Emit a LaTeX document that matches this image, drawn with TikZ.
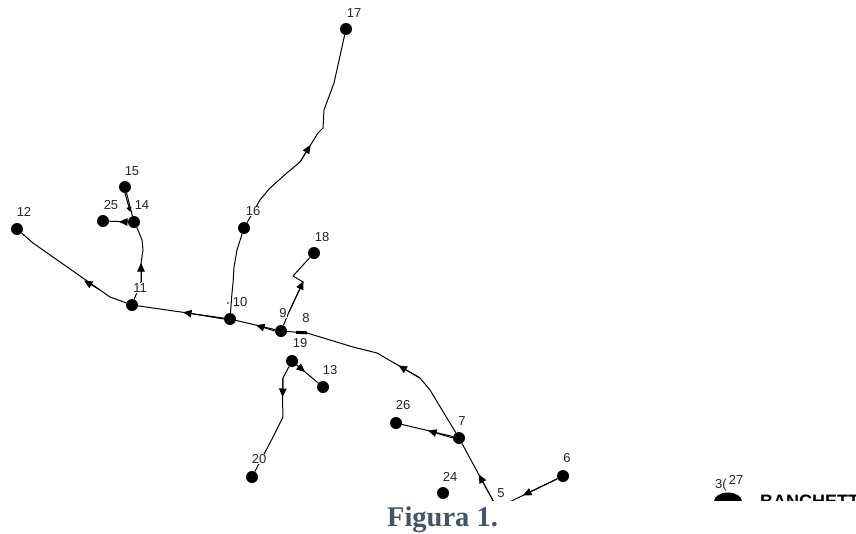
\documentclass[tikz,border=0pt]{standalone}
\usepackage{fontspec}
\setmainfont{Liberation Sans}
\newfontfamily\capfont{Liberation Serif}
\usetikzlibrary{arrows.meta,calc,shapes.geometric}
\definecolor{capblue}{HTML}{44546A}
\begin{document}
\begin{tikzpicture}[x=1pt,y=-1pt,
  dot/.style={circle,fill=black,inner sep=0pt,minimum size=12pt},
  lbl/.style={fill=white,inner sep=0.5pt,text=black!85,font=\fontsize{13}{14}\selectfont},
  conn/.style={draw=black,line width=1pt},
  tipst/.style={draw=black,line width=1pt,-{Triangle[length=8.5pt,width=7.5pt]}},
  smalltip/.style={draw=black,line width=1pt,-{Triangle[length=5pt,width=5pt]}}
]
\fill[white] (0,0) rectangle (856,533);
\useasboundingbox (0,0) rectangle (856,533);

\begin{scope}
\clip (0,0) rectangle (856,500);
% nodes
\node[dot] (n17) at (346,29) {};
\node[dot] (n16) at (244,228) {};
\node[dot] (n15) at (125,187) {};
\node[dot] (n14) at (134,222) {};
\node[dot] (n25) at (103,221) {};
\node[dot] (n12) at (17,229) {};
\node[dot] (n18) at (314,253) {};
\node[dot] (n11) at (132,305) {};
\node[dot] (n10) at (230,319) {};
\node[dot] (n9) at (281,331) {};
\coordinate (n8) at (307,333);
\node[dot] (n19) at (292,361) {};
\node[dot] (n13) at (323,387) {};
\node[dot] (n26) at (396,423) {};
\node[dot] (n7) at (459,438) {};
\node[dot] (n20) at (252,477) {};
\node[dot] (n24) at (443,493) {};
\node[dot] (n6) at (563,476) {};
\node[dot] (n5) at (497,508) {};
\node[ellipse,fill=black,minimum width=28pt,minimum height=18pt,inner sep=0pt] (n27) at (728,501.5) {};

% connectors
\draw[conn] (n16) -- (260,200) -- (270,188) -- (288,172) -- (300,162) -- (318,133) -- (323,128) -- (324,110) -- (334,83) -- (n17);
\draw[tipst] (300,162) -- (310.5,145);

\draw[conn] (n10) -- (232,293) -- (233,283) -- (234,267) -- (237,250) -- (n16);

\draw[conn] (n11) -- (141,282) -- (141,263) -- (143,250) -- (142,240) -- (138,230) -- (n14);
\draw[tipst] (141,282) -- (141,263);

\draw[conn] (n14) -- (n25);
\draw[tipst] (n14.west) -- (119,221.8);

\draw[conn] (n15) -- (n14);
\draw[smalltip] (n15.south) -- (130.3,212);

\draw[conn] (n11) -- (110,297) -- (100,290) -- (33,243) -- (n12);
\draw[tipst] (100,290) -- (84,280.5);

\draw[conn] (n10) -- (n11);
\draw[tipst] (n10.west) -- (183,312.3);

\draw[conn] (n9) -- (n10);
\draw[tipst] (n9.west) -- (256,325.1);

\draw[conn] (n8) -- (n9);
\draw[line width=3pt] (296,332.3) -- (307,332.8);

\draw[conn] (n7) -- (430,390) -- (420,378) -- (377,353) -- (353,347) -- (n8);
\draw[tipst] (420,378) -- (398.5,365.5);

\draw[conn] (n5) -- (n7);
\draw[tipst] (n5) -- (478.8,474.5);

\draw[conn] (n7) -- (n26);
\draw[tipst] (n7.west) -- (428,430.6);

\draw[conn] (n9) -- (289,312) -- (303,282) -- (293,276) -- (n18);
\draw[tipst] (289,312) -- (303.5,281);

\draw[conn] (n19) -- (n13);
\draw[tipst] (n19) -- (305,371.9);

\draw[conn] (n19) -- (283,378) -- (282.5,400) -- (283,417) -- (273,437) -- (n20);
\draw[tipst] (283,378) -- (282.6,397);

\draw[conn] (n6) -- (n5);
\draw[tipst] (n6) -- (523,495.4);

% labels
\node[lbl] (l17) at (354,13) {17};
\node[lbl] (l16) at (253,211) {16};
\node[lbl] (l15) at (132,171) {15};
\node[lbl] (l25) at (111,205) {25};
\node[lbl] (l14) at (142,205) {14};
\node[lbl] (l12) at (24,212) {12};
\node[lbl] (l18) at (322,237) {18};
\node[lbl] (l11) at (140,288) {11};
\node[lbl] (l10) at (240,302) {10};
\fill (228,303) circle (0.8);
\node[lbl] (l9) at (283,313) {9};
\node[lbl] (l8) at (306,318) {8};
\node[lbl] (l19) at (300,343) {19};
\node[lbl] (l13) at (330,370) {13};
\node[lbl] (l26) at (403,405) {26};
\node[lbl] (l7) at (462,421) {7};
\node[lbl] (l20) at (259,459) {20};
\node[lbl] (l24) at (450,477) {24};
\node[lbl] (l5) at (501,493) {5};
\node[lbl] (l6) at (567,458) {6};
\node[lbl,fill=none] (l3) at (721,485) {3(};
\node[lbl,fill=none] (l27) at (736,480) {27};
\node[anchor=north west,inner sep=0pt,font=\bfseries\fontsize{18}{20}\selectfont] (btxt) at (760,495) {BANCHETTO};
\end{scope}

\node[anchor=base,inner sep=0pt,text=capblue,font=\capfont\bfseries\fontsize{28.5}{30}\selectfont] (cap) at (442.5,526) {Figura 1.};
\end{tikzpicture}
\end{document}
